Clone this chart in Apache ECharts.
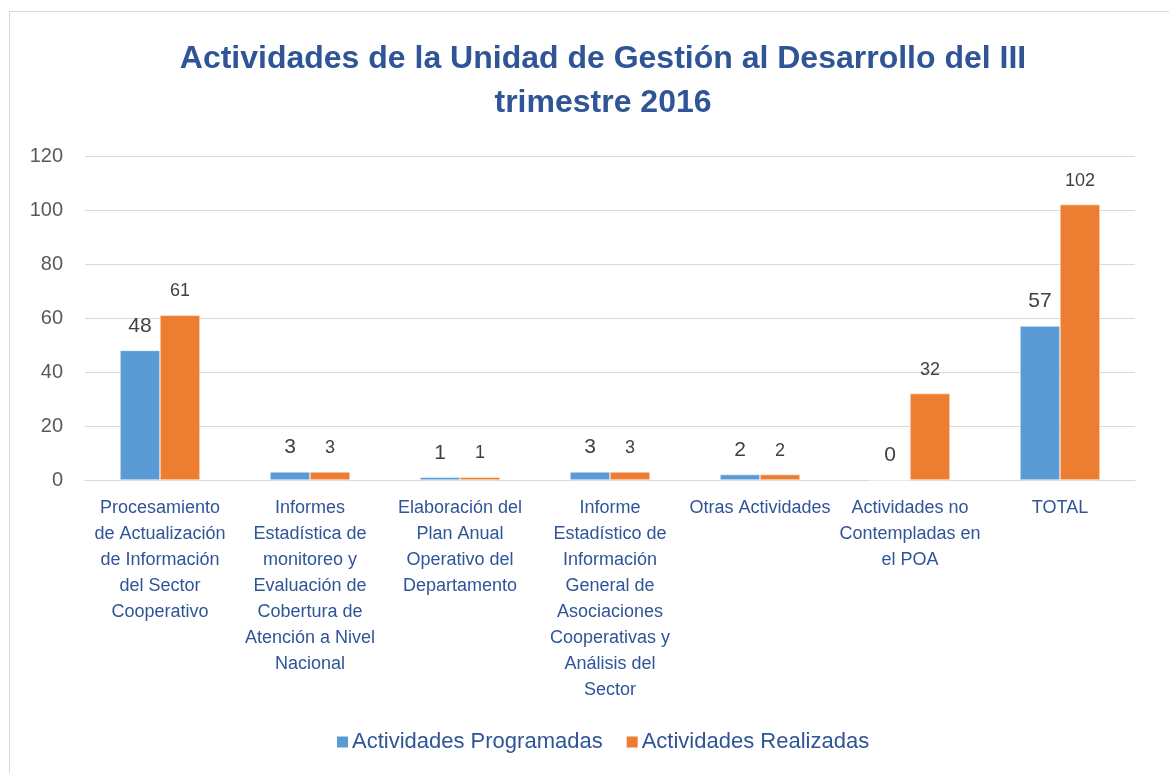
<!DOCTYPE html>
<html>
<head>
<meta charset="utf-8">
<script src="https://cdn.jsdelivr.net/npm/echarts@6/dist/echarts.min.js"></script>
<style>
  html, body { margin: 0; padding: 0; background: #fff; }
  #chart { position: absolute; left: 0; top: 0; width: 1169px; height: 773px; }
  #frame { position: absolute; left: 9px; top: 11px; width: 1170px; height: 780px;
           border: 1px solid #D9D9D9; pointer-events: none; }
</style>
</head>
<body>
<div id="chart"></div>
<div id="frame"></div>
<script>
const categories = [
  "Procesamiento\nde Actualización\nde Información\ndel Sector\nCooperativo",
  "Informes\nEstadística de\nmonitoreo y\nEvaluación de\nCobertura de\nAtención a Nivel\nNacional",
  "Elaboración del\nPlan Anual\nOperativo del\nDepartamento",
  "Informe\nEstadístico de\nInformación\nGeneral de\nAsociaciones\nCooperativas y\nAnálisis del\nSector",
  "Otras Actividades",
  "Actividades no\nContempladas en\nel POA",
  "TOTAL"
];
const programadas = [48, 3, 1, 3, 2, 0, 57];
const realizadas = [61, 3, 1, 3, 2, 32, 102];
const yTicks = [0, 20, 40, 60, 80, 100, 120];

const FONT = "Liberation Sans";
const chart = echarts.init(document.getElementById("chart"));

chart.setOption({
  animation: false,
  title: {
    text: "Actividades de la Unidad de Gestión al Desarrollo del III\ntrimestre 2016",
    left: 598,
    textAlign: "center",
    top: 32,
    textStyle: {
      color: "#2F5597",
      fontFamily: FONT,
      fontWeight: "bold",
      fontSize: 32,
      lineHeight: 44
    }
  },
  legend: {
    bottom: 15,
    left: 330,
    itemWidth: 13,
    itemHeight: 13,
    itemGap: 22,
    icon: "rect",
    textStyle: { color: "#2F5597", fontFamily: FONT, fontSize: 22, padding: [0, 0, 0, -2] }
  },
  grid: { left: 85, right: 34, top: 156, bottom: 293 },
  xAxis: {
    type: "category",
    data: categories,
    axisLine: { lineStyle: { color: "#D9D9D9" } },
    axisTick: { show: false },
    axisLabel: {
      interval: 0,
      color: "#2F5597",
      fontFamily: FONT,
      fontSize: 18,
      lineHeight: 26,
      margin: 15,
      verticalAlign: "top"
    }
  },
  yAxis: {
    type: "value",
    min: yTicks[0],
    max: yTicks[yTicks.length - 1],
    interval: 20,
    axisLine: { show: false },
    axisTick: { show: false },
    splitLine: { lineStyle: { color: "#D9D9D9", width: 1 } },
    axisLabel: { color: "#595959", fontFamily: FONT, fontSize: 20, margin: 22 }
  },
  series: [
    {
      name: "Actividades Programadas",
      type: "bar",
      data: programadas,
      barGap: "0%",
      barCategoryGap: "46.7%",
      itemStyle: { color: "#5B9BD5", borderColor: "#fff", borderWidth: 0.5 },
      label: {
        show: true,
        position: "top",
        distance: 14,
        color: "#404040",
        fontFamily: FONT,
        fontSize: 21
      }
    },
    {
      name: "Actividades Realizadas",
      type: "bar",
      data: realizadas,
      itemStyle: { color: "#ED7D31", borderColor: "#fff", borderWidth: 0.5 },
      label: {
        show: true,
        position: "top",
        distance: 15,
        color: "#404040",
        fontFamily: FONT,
        fontSize: 18
      }
    }
  ]
});
</script>
</body>
</html>
